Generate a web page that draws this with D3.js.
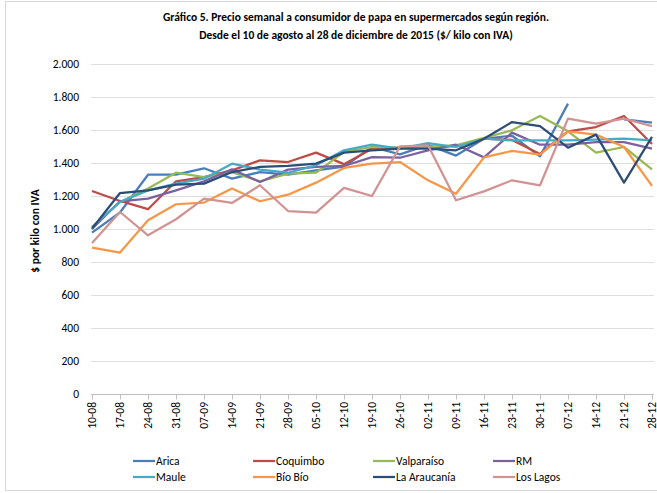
<!DOCTYPE html>
<html>
<head>
<meta charset="utf-8">
<script src="https://cdn.jsdelivr.net/npm/d3@7/dist/d3.min.js"></script>
<style>
    body { margin: 0; background: #fff; }
    text { font-family: Carlito, Calibri, "Liberation Sans Narrow", "Open Sans", sans-serif; fill: #000; }
</style>
</head>
<body>
<svg class="chart" width="657" height="493"></svg>
<script>
var weeks = ["10-08", "17-08", "24-08", "31-08", "07-09", "14-09", "21-09", "28-09", "05-10", "12-10",
    "19-10", "26-10", "02-11", "09-11", "16-11", "23-11", "30-11", "07-12", "14-12", "21-12", "28-12"];

var arica = [978, 1100, 1329, 1329, 1368, 1305, 1345, 1330, 1355, 1378, 1497, 1452, 1510, 1445, 1547, 1565, 1440, 1760, null, 1665, 1645];
var coquimbo = [1230, 1170, 1120, 1289, 1315, 1355, 1416, 1406, 1463, 1393, 1487, 1493, 1497, 1503, 1547, 1540, 1455, 1592, 1618, 1685, 1515];
var valparaiso = [1012, 1164, 1245, 1341, 1315, 1345, 1289, 1335, 1341, 1467, 1497, 1493, 1497, 1507, 1552, 1598, 1685, 1592, 1463, 1497, 1362];
var rm = [1000, 1168, 1184, 1234, 1289, 1362, 1285, 1360, 1376, 1382, 1436, 1432, 1477, 1511, 1434, 1584, 1511, 1511, 1527, 1527, 1487];
var maule = [1012, 1164, 1234, 1275, 1305, 1396, 1360, 1341, 1386, 1477, 1511, 1487, 1521, 1497, 1547, 1537, 1537, 1537, 1541, 1547, 1537];
var bioBio = [887, 857, 1053, 1150, 1160, 1245, 1168, 1208, 1281, 1370, 1396, 1406, 1295, 1214, 1434, 1473, 1451, 1592, 1572, 1497, 1261];
var araucania = [1002, 1218, 1234, 1269, 1275, 1345, 1376, 1382, 1396, 1463, 1477, 1487, 1487, 1477, 1547, 1648, 1624, 1493, 1572, 1281, 1558];
var losLagos = [915, 1103, 962, 1059, 1184, 1158, 1265, 1109, 1099, 1249, 1200, 1501, 1507, 1174, 1228, 1295, 1265, 1669, 1638, 1669, 1624];

var names = ["Arica", "Coquimbo", "Valparaíso", "RM", "Maule", "Bío Bío", "La Araucanía", "Los Lagos"];
var values = [arica, coquimbo, valparaiso, rm, maule, bioBio, araucania, losLagos];
var colors = ["#4A7EBB", "#BE4B48", "#98B954", "#7D60A0", "#46AAC5", "#F79646", "#2C4D75", "#D19392"];
var yTicks = [0, 200, 400, 600, 800, 1000, 1200, 1400, 1600, 1800, 2000];

var width = 657,
    height = 493;

var chart = d3.select(".chart");

// chart area border
chart.append("rect")
    .attr("x", 5.5)
    .attr("y", 1.5)
    .attr("width", 660)
    .attr("height", 489)
    .style("fill", "none")
    .style("stroke", "#D9D9D9")
    .style("stroke-width", 1);

var x = d3.scalePoint()
    .domain(weeks)
    .range([92, 652]);

var y = d3.scaleLinear()
    .domain([0, 2000])
    .range([394, 64]);

var fmt = function (d) {
    return d3.format(",")(d).replace(/,/g, ".");
};

// gridlines
chart.append("g")
    .attr("class", "grid")
    .selectAll("line")
    .data(yTicks.filter(function (d) { return d > 0; }))
    .enter()
    .append("line")
    .attr("x1", 91)
    .attr("x2", 654)
    .attr("y1", function (d) { return Math.round(y(d)) + 0.5; })
    .attr("y2", function (d) { return Math.round(y(d)) + 0.5; })
    .style("stroke", "#DEDEDE")
    .style("stroke-width", 1.2);

// y labels
chart.append("g")
    .selectAll("text")
    .data(yTicks)
    .enter()
    .append("text")
    .attr("x", 79)
    .attr("y", function (d) { return y(d) + 4; })
    .attr("text-anchor", "end")
    .style("font-size", "11.5px")
    .text(fmt);

// x axis
var xAxis = d3.axisBottom(x)
    .tickSize(5)
    .tickFormat("");

var xg = chart.append("g")
    .attr("transform", "translate(0," + (Math.round(y(0)) + 0.5) + ")")
    .call(xAxis);
xg.select(".domain").attr("d", "M91,0H654").style("stroke", "#BFBFBF");
xg.selectAll(".tick line").style("stroke", "#BFBFBF");

chart.append("g")
    .selectAll("text")
    .data(weeks)
    .enter()
    .append("text")
    .attr("transform", function (d) {
        return "translate(" + (x(d) + 3.5) + "," + 402 + ") rotate(-90)";
    })
    .attr("text-anchor", "end")
    .style("font-size", "11.5px")
    .text(function (d) { return d; });

// lines
var line = d3.line()
    .defined(function (d) { return d != null; })
    .x(function (d, i) { return x(weeks[i]); })
    .y(function (d) { return y(d); });

chart.append("g")
    .selectAll("path")
    .data(values)
    .enter()
    .append("path")
    .attr("d", line)
    .style("fill", "none")
    .style("stroke", function (d, i) { return colors[i]; })
    .style("stroke-width", 2.25)
    .style("stroke-linejoin", "round");

// titles
chart.append("text")
    .attr("x", 356)
    .attr("y", 21)
    .attr("text-anchor", "middle")
    .style("font-size", "11.5px")
    .style("font-weight", "bold")
    .text("Gráfico 5. Precio semanal a consumidor de papa en supermercados según región.");

chart.append("text")
    .attr("x", 356)
    .attr("y", 39)
    .attr("text-anchor", "middle")
    .style("font-size", "11.5px")
    .style("font-weight", "bold")
    .text("Desde el 10 de agosto al 28 de diciembre de 2015 ($/ kilo con IVA)");

chart.append("text")
    .attr("transform", "translate(39,231) rotate(-90)")
    .attr("text-anchor", "middle")
    .style("font-size", "11.5px")
    .style("font-weight", "bold")
    .text("$ por kilo con IVA");

// legend
var legend = chart.append("g")
    .selectAll("g")
    .data(names)
    .enter()
    .append("g")
    .attr("transform", function (d, i) {
        return "translate(" + (133 + (i % 4) * 120) + "," + (461 + Math.floor(i / 4) * 16) + ")";
    });

legend.append("line")
    .attr("x1", 0)
    .attr("x2", 22)
    .style("stroke", function (d, i) { return colors[i]; })
    .style("stroke-width", 2.25);

legend.append("text")
    .attr("x", 23)
    .attr("y", 4)
    .style("font-size", "11.5px")
    .text(function (d) { return d; });
</script>
</body>
</html>
